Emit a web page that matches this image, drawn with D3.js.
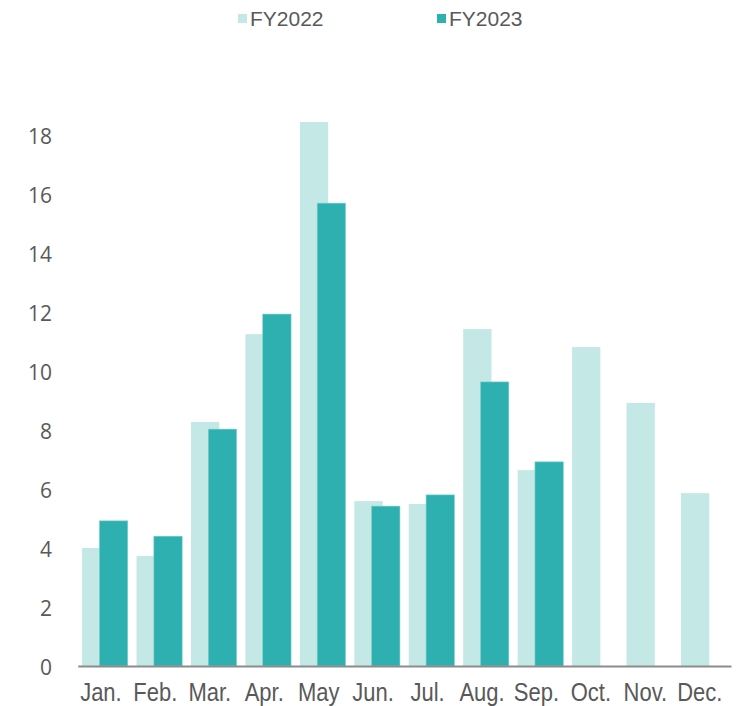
<!DOCTYPE html>
<html><head><meta charset="utf-8">
<script src="https://cdn.jsdelivr.net/npm/d3@7"></script>
<style>html,body{margin:0;padding:0;background:#fff;overflow:hidden;}</style>
</head><body>
<svg id="c" width="751" height="706"></svg>
<script>
const categories = ["Jan.","Feb.","Mar.","Apr.","May","Jun.","Jul.","Aug.","Sep.","Oct.","Nov.","Dec."];
const seriesNames = ["FY2022","FY2023"];
const fy2022 = [4.0, 3.73, 8.27, 11.25, 18.44, 5.59, 5.49, 11.42, 6.64, 10.81, 8.92, 5.86];
const fy2023 = [4.92, 4.4, 8.03, 11.93, 15.69, 5.42, 5.8, 9.63, 6.92, null, null, null];
const yTicks = [0,2,4,6,8,10,12,14,16,18];
const colors = ["#C4E8E6", "#2EAFB0"];

const svg = d3.select("#c");
const left = 77.7, right = 731, y0 = 666, yTop18 = 135;
const x = d3.scaleBand().domain(categories).range([left, right]).paddingInner(0).paddingOuter(0);
const y = d3.scaleLinear().domain([0, 18]).range([y0, yTop18]);

const band = x.bandwidth();
const barW = band * 0.52;
const inset = band * 0.081;
const offset = band * 0.318;

const g = svg.append("g");
[fy2022, fy2023].forEach((vals, si) => {
  g.selectAll(".s" + si).data(categories.map((c, i) => ({c, v: vals[i]})).filter(d => d.v != null))
    .enter().append("rect")
    .attr("x", d => x(d.c) + inset + si * offset)
    .attr("y", d => y(d.v))
    .attr("width", barW)
    .attr("height", d => y0 - y(d.v))
    .attr("fill", colors[si])
    .attr("stroke", si === 1 ? "#7fd0cf" : "none")
    .attr("stroke-width", si === 1 ? 0.6 : 0);
});

// x axis
const sx = 1.14;
const xAxis = d3.axisBottom(x).tickSize(0).tickPadding(0);
const xg = svg.append("g").attr("transform", `translate(0,${y0})`).call(xAxis);
xg.select(".domain").attr("stroke", "#8c8c8c").attr("stroke-width", 2);
xg.selectAll("text").attr("dy", null).attr("y", 35 / sx).attr("x", -4)
  .attr("transform", `scale(1,${sx})`)
  .attr("font-family", "'Liberation Sans', Arial, sans-serif").attr("font-size", 22).attr("fill", "#595959");

// y axis labels
const yAxis = d3.axisLeft(y).tickValues(yTicks).tickSize(0).tickPadding(0);
const yg = svg.append("g").attr("transform", `translate(52,0)`).call(yAxis);
yg.select(".domain").remove();
yg.selectAll("text").attr("font-family", "'Open Sans', sans-serif").attr("font-size", 21).attr("fill", "#595959")
  .attr("dy", "0.36em").attr("transform", "scale(1,1.08)");

// legend
const legX = [238, 437];
seriesNames.forEach((n, i) => {
  svg.append("rect").attr("x", legX[i]).attr("y", 14).attr("width", 9).attr("height", 9).attr("fill", colors[i]);
  svg.append("text").attr("x", legX[i] + 12).attr("y", 26).text(n)
    .attr("font-family", "'Liberation Sans', Arial, sans-serif").attr("font-size", 21).attr("fill", "#595959");
});
</script>
</body></html>
